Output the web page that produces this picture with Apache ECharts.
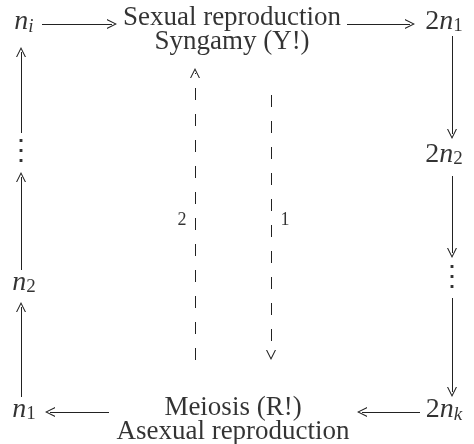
<!DOCTYPE html>
<html>
<head>
<meta charset="utf-8">
<script src="https://cdn.jsdelivr.net/npm/echarts@6/dist/echarts.min.js"></script>
<style>
  html, body { margin: 0; padding: 0; background: #fff; }
  #chart { width: 474px; height: 444px; }
</style>
</head>
<body>
<div id="chart"></div>
<script>
// node labels (rich text) and where they sit
var nodeLabels = [
    '{it|n}{subIt|i}',
    '{t|Sexual reproduction}\n{t|Syngamy (Y!)}',
    '{rm|2}{it|n}{sub|1}',
    '{rm|2}{it|n}{sub|2}',
    '{dots|⋮}',
    '{rm|2}{it|n}{subIt|k}',
    '{t|Meiosis (R!)}\n{t|Asexual reproduction}',
    '{it|n}{sub|1}',
    '{it|n}{sub|2}',
    '{dots|⋮}',
    '{small|2}',
    '{small|1}'
];
var nodeX = [24, 232, 444, 444, 452, 444, 233, 24, 24, 21, 182, 285];
var nodeY = [22, 30, 22, 155, 278, 410, 420, 410, 283, 152, 220, 220];

// solid arrows: start point -> arrow tip
var arrowFrom = [[42, 24], [347, 24], [452, 36], [452, 176], [452, 298], [420, 412], [109, 412], [21, 397], [21, 270], [21, 133]];
var arrowTo = [[117, 24], [415, 24], [452, 139], [452, 258], [452, 397], [357, 412], [45, 412], [21, 302], [21, 172], [21, 47]];

// dashed arrows (the "1" and "2" paths)
var dashFrom = [[195, 360], [271, 95]];
var dashTo = [[195, 68], [271, 360]];

var headSize = 10;
var chevron = 'path://M5,0 L8.5,10 L7.7,10 L5,2.2 L2.3,10 L1.5,10 Z';

function buildLines(from, to) {
    var res = [];
    for (let i = 0; i < from.length; i++) {
        let dx = to[i][0] - from[i][0];
        let dy = to[i][1] - from[i][1];
        let len = Math.sqrt(dx * dx + dy * dy);
        // symbol is centred on the end point, so pull back by half its size
        let end = [to[i][0] - dx / len * headSize / 2, to[i][1] - dy / len * headSize / 2];
        res.push({ coords: [from[i], end] });
    }
    return res;
}

var labelData = [];
for (let i = 0; i < nodeLabels.length; i++) {
    labelData.push({ value: [nodeX[i], nodeY[i]], label: { formatter: nodeLabels[i] } });
}

var serif = 'Liberation Serif';
var myChart = echarts.init(document.getElementById('chart'));
var option = {
    animation: false,
    grid: { left: 0, right: 0, top: 0, bottom: 0 },
    xAxis: { type: 'value', min: 0, max: 474, show: false },
    yAxis: { type: 'value', min: 0, max: 444, inverse: true, show: false },
    series: [
        {
            type: 'lines',
            coordinateSystem: 'cartesian2d',
            symbol: ['none', chevron],
            symbolSize: headSize,
            lineStyle: { color: '#222', width: 1, opacity: 1 },
            data: buildLines(arrowFrom, arrowTo),
            z: 2
        },
        {
            type: 'lines',
            coordinateSystem: 'cartesian2d',
            symbol: ['none', chevron],
            symbolSize: headSize,
            lineStyle: { color: '#222', width: 1, opacity: 1, type: [12, 14] },
            data: buildLines(dashFrom, dashTo),
            z: 2
        },
        {
            type: 'scatter',
            symbolSize: 0,
            data: labelData,
            label: {
                show: true,
                position: 'inside',
                align: 'center',
                verticalAlign: 'middle',
                color: '#000',
                rich: {
                    t: { fontFamily: serif, fontSize: 27, lineHeight: 24, color: '#000' },
                    it: { fontFamily: serif, fontStyle: 'italic', fontSize: 28, lineHeight: 28, color: '#000' },
                    rm: { fontFamily: serif, fontSize: 28, lineHeight: 28, color: '#000' },
                    sub: { fontFamily: serif, fontSize: 19, lineHeight: 12, verticalAlign: 'bottom', color: '#000' },
                    subIt: { fontFamily: serif, fontStyle: 'italic', fontSize: 19, lineHeight: 12, verticalAlign: 'bottom', color: '#000' },
                    dots: { fontFamily: 'DejaVu Serif', fontSize: 28, lineHeight: 30, color: '#000' },
                    small: { fontFamily: serif, fontSize: 18, color: '#000' }
                }
            },
            z: 3
        }
    ]
};
myChart.setOption(option);
</script>
</body>
</html>
